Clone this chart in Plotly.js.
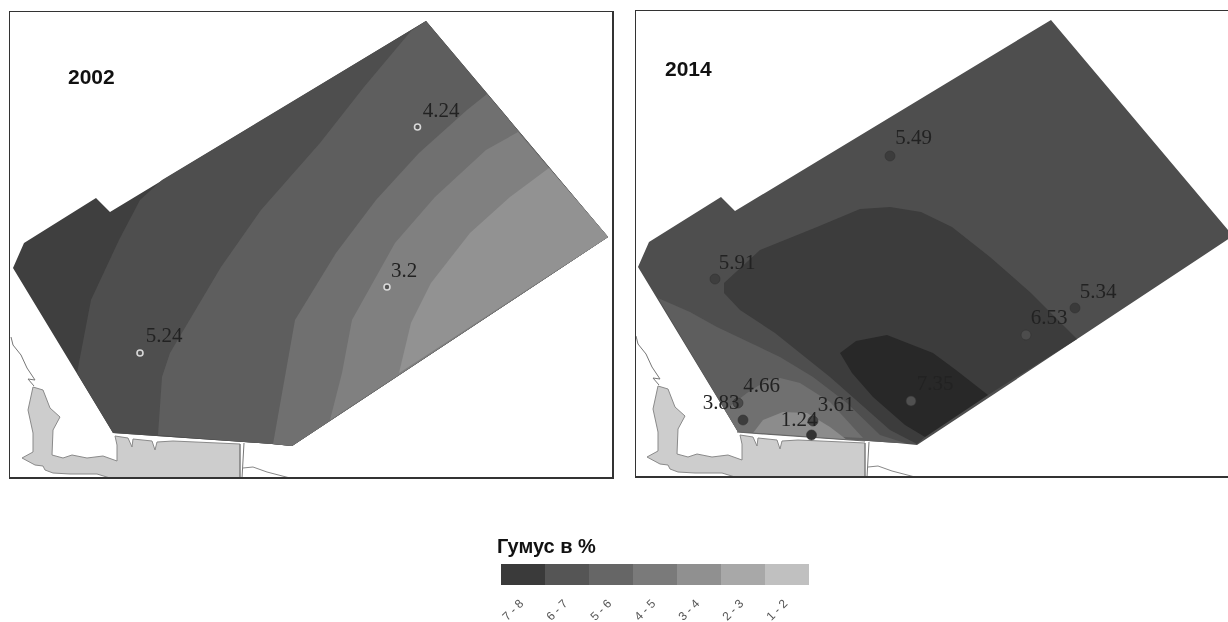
<!DOCTYPE html>
<html>
<head>
<meta charset="utf-8">
<script src="https://cdn.plot.ly/plotly-3.0.1.min.js"></script>
<style>
html,body{margin:0;padding:0;background:#fff}
#chart{width:1228px;height:622px;filter:blur(0.6px)}
</style>
</head>
<body>
<div id="chart"></div>
<script>
// Map coordinates shared by both panels
const outlineX = [426,608,292,272,113,13,24,96,110];
const outlineY = [21,237,446,444,433,268,243,198,212];

const landX = [33,43,50,60,53,52,63,72,87,103,117,117,115,128,132,133,152,155,157,173,240,240,110,97,70,53,45,43,35,22,33,33,28];
const landY = [387,390,408,417,430,455,458,455,458,456,461,445,436,438,447,439,441,450,442,441,444,479,478,474,474,473,470,466,465,458,452,433,410];
const coastX = [11,13,21,27,35,28,34];
const coastY = [337,345,355,368,380,379,386];
const shoreX = [243,253,267,280,290];
const shoreY = [468,467,472,475,478];
const canalAX = [240,240];
const canalAY = [444,478];
const canalBX = [244,242];
const canalBY = [443,478];

// 2002 contour bands
const b02aX = [77,91,119,140,162,426,608,292,272,113];
const b02aY = [373,300,240,200,180,21,237,446,444,433];
const b02bX = [158,162,170,221,261,320,364,395,411,426,608,292,272];
const b02bY = [435,377,353,267,210,143,87,50,31,21,237,446,444];
const b02cX = [273,287,295,336,376,419,467,487,608,292];
const b02cY = [444,367,320,253,200,153,110,94,237,446];
const b02dX = [330,342,352,395,435,486,518,608];
const b02dY = [420,373,320,243,197,150,132,237];
const b02eX = [399,411,431,470,510,549,608];
const b02eY = [373,323,283,233,197,168,237];

// 2014 contour bands
const b14aX = [33,65,92,155,188,222,255,280,272,113];
const b14aY = [299,313,328,358,378,404,436,444,444,433];
const b14bX = [100,122,142,155,175,205,238,113];
const b14bY = [411,394,381,379,384,403,439,433];
const b14cX = [128,138,158,182,205,222];
const b14cY = [434,421,413,414,428,441];
const b14dX = [99,135,192,235,265,296,327,365,406,452,363,300,292,265,205,150,115,99];
const b14dY = [284,251,228,210,208,213,228,258,294,340,396,438,445,431,378,334,311,294];
const b14eX = [215,231,262,308,331,363,300,280,248,227];
const b14eY = [354,342,336,354,371,396,438,426,398,374];
const edge14X = [112,240];
const edge14Y = [433,442];

// Sampling points
const pts02X = [417.5,387,140];
const pts02Y = [127,287,353];
const lab02X = [441,404,164];
const lab02Y = [112,272,337];
const vals02 = ['4.24','3.2','5.24'];

const pts14X = [265,90,450,401,286,113,118,188,186.5];
const pts14Y = [157,280,309,336,402,404,421,422,436];
const lab14X = [288.5,112,473,424,310,136.5,96,211,174];
const lab14Y = [140,265,294,320,386,388,405,407,422];
const vals14 = ['5.49','5.91','5.34','6.53','7.35','4.66','3.83','3.61','1.24'];
const dot14 = ['#3c3c3c','#3e3e3e','#3a3a3a','#4c4c4c','#505050','#4a4a4a','#3c3c3c','#444444','#333333'];

// Legend
const legendCats = ['7 - 8','6 - 7','5 - 6','4 - 5','3 - 4','2 - 3','1 - 2'];
const legendVals = [1,1,1,1,1,1,1];
const legendCols = ['#3a3a3a','#555555','#666666','#7a7a7a','#909090','#a8a8a8','#c0c0c0'];

const W = 1228, H = 622;
const fx = v => v / W, fy = v => 1 - v / H;

function poly(xs, ys, col, xa, ya) {
  return {type:'scatter', mode:'lines', x:xs.concat(xs[0]), y:ys.concat(ys[0]), fill:'toself', fillcolor:col,
    line:{width:0, color:col}, hoverinfo:'skip', showlegend:false, xaxis:xa, yaxis:ya};
}
function line(xs, ys, col, w, xa, ya) {
  return {type:'scatter', mode:'lines', x:xs, y:ys, line:{width:w, color:col}, hoverinfo:'skip', showlegend:false, xaxis:xa, yaxis:ya};
}
function land(xa, ya) {
  return [
    {type:'scatter', mode:'lines', x:landX.concat(landX[0]), y:landY.concat(landY[0]), fill:'toself', fillcolor:'#cdcdcd',
      line:{width:1, color:'#8a8a8a'}, hoverinfo:'skip', showlegend:false, xaxis:xa, yaxis:ya},
    line(coastX, coastY, '#777777', 1, xa, ya),
    line(shoreX, shoreY, '#888888', 1, xa, ya),
    line(canalAX, canalAY, '#777777', 1, xa, ya),
    line(canalBX, canalBY, '#777777', 1, xa, ya)
  ];
}
function labels(xs, ys, txt, xa, ya) {
  return {type:'scatter', mode:'text', x:xs, y:ys, text:txt, textposition:'middle center',
    textfont:{family:'Liberation Serif', size:21, color:'#222222'}, hoverinfo:'skip', showlegend:false, xaxis:xa, yaxis:ya};
}

const data = [].concat(
  land('x','y'),
  [
    poly(outlineX, outlineY, '#3f3f3f','x','y'),
    poly(b02aX, b02aY, '#4e4e4e','x','y'),
    poly(b02bX, b02bY, '#5e5e5e','x','y'),
    poly(b02cX, b02cY, '#707070','x','y'),
    poly(b02dX, b02dY, '#808080','x','y'),
    poly(b02eX, b02eY, '#929292','x','y'),
    {type:'scatter', mode:'markers', x:pts02X, y:pts02Y, hoverinfo:'skip', showlegend:false, xaxis:'x', yaxis:'y',
      marker:{size:6, color:'#555555', line:{color:'#d8d8d8', width:1.6}}},
    labels(lab02X, lab02Y, vals02, 'x','y')
  ],
  land('x2','y2'),
  [
    poly(outlineX, outlineY, '#4e4e4e','x2','y2'),
    poly(b14aX, b14aY, '#5e5e5e','x2','y2'),
    poly(b14bX, b14bY, '#707070','x2','y2'),
    poly(b14cX, b14cY, '#8c8c8c','x2','y2'),
    poly(b14dX, b14dY, '#3c3c3c','x2','y2'),
    poly(b14eX, b14eY, '#282828','x2','y2'),
    line(edge14X, edge14Y, '#666666', 1.2, 'x2','y2'),
    {type:'scatter', mode:'markers', x:pts14X, y:pts14Y, hoverinfo:'skip', showlegend:false, xaxis:'x2', yaxis:'y2',
      marker:{size:10, color:dot14, line:{color:'#333333', width:0.6}}},
    labels(lab14X, lab14Y, vals14, 'x2','y2'),
    {type:'bar', x:legendCats, y:legendVals, marker:{color:legendCols, line:{width:0}}, width:1,
      hoverinfo:'skip', showlegend:false, xaxis:'x3', yaxis:'y3'}
  ]
);

const frame = {showgrid:false, zeroline:false, showticklabels:false, ticks:'', showline:true, linecolor:'#333333', linewidth:1.5, fixedrange:true};

const layout = {
  width:W, height:H, margin:{l:0,r:0,t:0,b:0}, paper_bgcolor:'#ffffff', plot_bgcolor:'#ffffff',
  barmode:'overlay', bargap:0, showlegend:false,
  xaxis:Object.assign({}, frame, {domain:[fx(10),fx(612)], range:[10,612], mirror:true, anchor:'y'}),
  yaxis:Object.assign({}, frame, {domain:[fy(477),fy(12)], range:[477,12], mirror:true, anchor:'x'}),
  xaxis2:Object.assign({}, frame, {domain:[fx(636),1], range:[11,603], mirror:true, anchor:'y2'}),
  yaxis2:Object.assign({}, frame, {domain:[fy(476),fy(11)], range:[477,12], anchor:'x2'}),
  xaxis3:{domain:[fx(501),fx(809)], anchor:'y3', type:'category', categoryorder:'array', categoryarray:legendCats, range:[-0.5,6.5],
    showgrid:false, zeroline:false, showline:false, ticks:'', tickangle:-45, automargin:false,
    tickfont:{family:'Liberation Sans', size:12, color:'#555555'}, fixedrange:true, ticklabelstandoff:8, ticklabelshift:-3},
  yaxis3:{domain:[fy(585),fy(564)], anchor:'x3', range:[0,1], visible:false, fixedrange:true},
  annotations:[
    {xref:'x', yref:'y', x:91, y:76, text:'2002', showarrow:false, font:{family:'Liberation Sans', size:21, color:'#111111', weight:700}},
    {xref:'x2', yref:'y2', x:63.5, y:69, text:'2014', showarrow:false, font:{family:'Liberation Sans', size:21, color:'#111111', weight:700}},
    {xref:'paper', yref:'paper', x:fx(495), y:fy(546), xanchor:'left', yanchor:'middle', text:'Гумус в %', showarrow:false,
      font:{family:'Liberation Sans', size:20, color:'#111111', weight:700}}
  ]
};

Plotly.newPlot('chart', data, layout, {displayModeBar:false, staticPlot:true});
</script>
</body>
</html>
